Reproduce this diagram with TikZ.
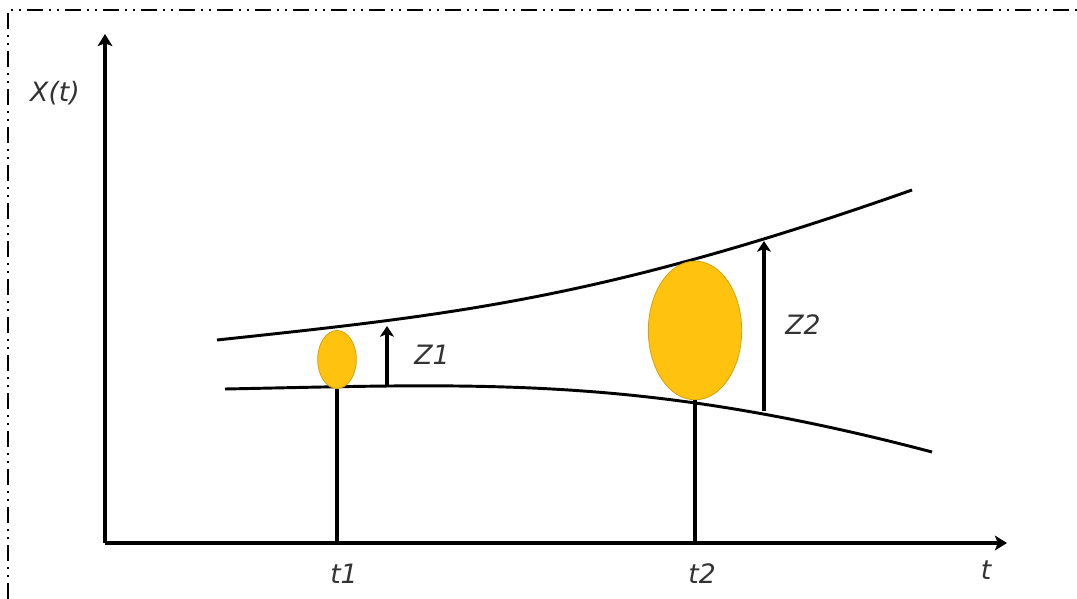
\documentclass[tikz,border=0pt]{standalone}
\usepackage{fontspec}
\newfontfamily\lblfont{DejaVu Sans}
\usetikzlibrary{arrows.meta,shapes.geometric}
\definecolor{gold}{HTML}{FFC20E}
\definecolor{goldedge}{HTML}{D4A20A}
\definecolor{lblgray}{HTML}{333333}
\begin{document}
\begin{tikzpicture}[x=0.75pt,y=-0.75pt,
  axis/.style={line width=2.6pt,-{Stealth[length=9pt,width=11pt,inset=2pt]}},
  curve/.style={line width=2.2pt},
  stem/.style={line width=2.4pt},
  zarrow/.style={line width=2.4pt,-{Stealth[length=8pt,width=10.5pt,inset=2pt]}},
  blob/.style={ellipse,fill=gold,draw=goldedge,line width=0.6pt,inner sep=0pt},
  lbl/.style={font=\lblfont\itshape\fontsize{20}{22}\selectfont,text=lblgray,inner sep=0pt},
  frame/.style={line width=1.5pt,dash pattern=on 12pt off 4.5pt on 1.5pt off 4.5pt on 1.5pt off 4.5pt}
]
\useasboundingbox (0,0) rectangle (1077,599);
% frame
\coordinate (fbl) at (8,599);
\coordinate (ftl) at (8,10);
\coordinate (ftr) at (1077,10);
\draw[frame] (fbl) -- (ftl) -- (ftr);
% axes
\coordinate (O) at (105,543);
\coordinate (ytip) at (105,34);
\coordinate (xtip) at (1007,543);
\draw[axis] (O) -- (ytip);
\draw[axis] (O) -- (xtip);
% curves
\coordinate (u0) at (217,340);
\coordinate (u1) at (912,190);
\coordinate (l0) at (225,389);
\coordinate (l1) at (932,452);
\draw[curve] (u0) .. controls (450,315) and (600,300) .. (u1);
\draw[curve] (l0) .. controls (480,384) and (640,375) .. (l1);
% blobs
\node[blob,minimum width=29pt,minimum height=43.5pt] (e1) at (337,359.5) {};
\node[blob,minimum width=70pt,minimum height=104pt] (e2) at (695,330.5) {};
% stems
\draw[stem] (e1.south |- O) -- (e1.south);
\draw[stem] (e2.south |- O) -- (e2.south);
% Z arrows
\coordinate (z1b) at (387,387);
\coordinate (z1t) at (387,326);
\coordinate (z2b) at (764,411);
\coordinate (z2t) at (764,241);
\draw[zarrow] (z1b) -- (z1t);
\draw[zarrow] (z2b) -- (z2t);
% labels
\node[lbl] (lx) at (55,93) {X(t)};
\node[lbl] (lz1) at (432,355) {Z1};
\node[lbl] (lz2) at (803,325) {Z2};
\node[lbl] (lt1) at (344,574) {t1};
\node[lbl] (lt2) at (702,574) {t2};
\node[lbl] (lt) at (986,570) {t};
\end{tikzpicture}
\end{document}
